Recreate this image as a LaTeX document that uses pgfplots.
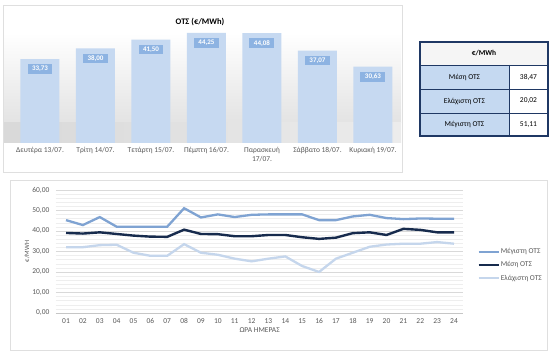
\documentclass[border=0pt]{standalone}
\usepackage{fontspec}
\setmainfont{Carlito}
\usepackage{pgfplots}
\pgfplotsset{compat=1.18}
\definecolor{barblue}{HTML}{C6D9F1}
\definecolor{lblblue}{HTML}{8DB3E2}
\definecolor{maxc}{HTML}{7FA3D2}
\definecolor{meanc}{HTML}{172B4D}
\definecolor{minc}{HTML}{C5D6EC}
\definecolor{navy}{HTML}{1F3864}
\definecolor{cellblue}{HTML}{C5D9F1}
\definecolor{txtgray}{HTML}{595959}
\begin{document}
\begin{tikzpicture}[x=1pt,y=1pt]
\path[use as bounding box] (0pt,0pt) rectangle (558pt,355pt);
% ---- bar chart panel
\draw[gray!25,fill=white] (3pt,350pt) rectangle (402pt,183pt);
\shade[top color=white,bottom color=gray!22] (4pt,322pt) rectangle (401pt,232pt);
\shade[left color=gray!30,right color=gray!15] (4pt,232pt) rectangle (401pt,212pt);
\begin{axis}[at={(12.25pt,212pt)},anchor=south west,scale only axis,
  width=388.5pt,height=124.5pt,xmin=-0.5,xmax=6.5,ymin=0,ymax=50,
  axis line style={draw=none},major tick length=0pt,ytick=\empty,
  xtick={0,...,6},
  xticklabels={Δευτέρα 13/07.,Τρίτη 14/07.,Τετάρτη 15/07.,Πέμπτη 16/07.,{Παρασκευή\\17/07.},Σάββατο 18/07.,Κυριακή 19/07.},
  xticklabel style={font=\fontsize{7.5}{8.5}\selectfont,text=txtgray,align=center,anchor=north,yshift=-1pt},
  /pgf/number format/assume math mode=true,
  clip=false]
\addplot[ybar,bar width=39pt,fill=barblue,draw=none,
  nodes near coords={\pgfmathprintnumber[fixed,fixed zerofill,precision=2,use comma]{\pgfplotspointmeta}},
  every node near coord/.append style={anchor=north,yshift=-5pt,fill=lblblue,text=white,
    font=\bfseries\fontsize{7}{8}\selectfont,inner xsep=4.5pt,inner ysep=2pt}]
  coordinates {(0,33.73) (1,38.00) (2,41.50) (3,44.25) (4,44.08) (5,37.07) (6,30.63)};
\end{axis}
\node[fill=white,font=\bfseries\fontsize{8.5}{10}\selectfont,inner sep=2pt] at (200pt,333pt) {ΟΤΣ (€/MWh)};
% ---- table
\fill[gray!8] (420pt,313pt) rectangle (548pt,290pt);
\fill[cellblue] (420pt,290pt) rectangle (509pt,219pt);
\fill[white] (509pt,290pt) rectangle (548pt,219pt);
\draw[navy,line width=0.6pt] (420pt,290pt) -- (548pt,290pt) (420pt,266pt) -- (548pt,266pt) (420pt,242pt) -- (548pt,242pt) (509pt,290pt) -- (509pt,219pt);
\draw[navy,line width=1.3pt] (420pt,313pt) rectangle (548pt,219pt);
\begin{scope}[font=\fontsize{7.5}{9}\selectfont]
\node[font=\bfseries\fontsize{7.5}{9}\selectfont] at (484pt,301.5pt) {€/MWh};
\node at (464.5pt,278pt) {Μέση ΟΤΣ};
\node at (464.5pt,254pt) {Ελάχιστη ΟΤΣ};
\node at (464.5pt,230.5pt) {Μέγιστη ΟΤΣ};
\node at (528.5pt,278pt) {38,47};
\node at (528.5pt,254pt) {20,02};
\node at (528.5pt,230.5pt) {51,11};
\end{scope}
% ---- line chart panel
\draw[gray!25,fill=white] (10pt,175pt) rectangle (547pt,5pt);
\begin{axis}[at={(55.9pt,42pt)},anchor=south west,scale only axis,
  width=407.4pt,height=123pt,xmin=0.4,xmax=24.55,ymin=0,ymax=60,
  axis x line*=bottom,axis y line*=left,
  x axis line style={draw=gray!45,-},y axis line style={draw=none},
  major tick length=0pt,minor tick length=0pt,
  ytick={0,10,...,60},
  yticklabels={{0,00},{10,00},{20,00},{30,00},{40,00},{50,00},{60,00}},
  minor y tick num=4,
  ymajorgrids,yminorgrids,
  major grid style={gray!30,line width=0.5pt},
  minor grid style={gray!13,line width=0.4pt},
  xtick={1,...,24},
  xticklabels={01,02,03,04,05,06,07,08,09,10,11,12,13,14,15,16,17,18,19,20,21,22,23,24},
  tick label style={font=\fontsize{7.5}{8.5}\selectfont,text=txtgray},
  xticklabel style={yshift=-2pt},
  yticklabel style={xshift=-3pt},
  xlabel={ΩΡΑ ΗΜΕΡΑΣ},ylabel={€/MWH},
  xlabel style={font=\fontsize{7.5}{8.5}\selectfont,text=txtgray,yshift=3pt},
  ylabel style={font=\fontsize{6.5}{7.5}\selectfont,text=txtgray,yshift=-4pt},
  legend style={at={(rel axis cs:1.034,0.39)},anchor=west,draw=none,fill=none,
    font=\fontsize{7.5}{8.5}\selectfont,text=txtgray,row sep=2.5pt,inner xsep=0pt,
    nodes={inner xsep=1pt}},
  legend cell align=left,
  legend image code/.code={\draw[#1] (0pt,0pt) -- (20pt,0pt);},
  /pgf/number format/assume math mode=true,
  clip=false]
\addplot[maxc,line width=2.3pt] coordinates {
(1,45.3) (2,42.9) (3,46.8) (4,42.1) (5,42.1) (6,42.1) (7,42.1) (8,51.11)
(9,46.6) (10,48.1) (11,46.8) (12,47.9) (13,48.1) (14,48.1) (15,48.1) (16,45.3)
(17,45.3) (18,47.1) (19,47.9) (20,46.3) (21,45.8) (22,46.1) (23,46.0) (24,46.0)};
\addlegendentry{Μέγιστη ΟΤΣ}
\addplot[meanc,line width=2.4pt] coordinates {
(1,39.05) (2,38.75) (3,39.35) (4,38.55) (5,37.75) (6,37.25) (7,37.15) (8,40.65)
(9,38.55) (10,38.45) (11,37.45) (12,37.45) (13,38.05) (14,38.05) (15,36.95) (16,36.15)
(17,36.75) (18,38.95) (19,39.35) (20,38.05) (21,41.05) (22,40.55) (23,39.35) (24,39.35)};
\addlegendentry{Μέση ΟΤΣ}
\addplot[minc,line width=2.3pt] coordinates {
(1,32.1) (2,32.1) (3,33.1) (4,33.3) (5,29.4) (6,27.9) (7,27.9) (8,33.6)
(9,29.4) (10,28.4) (11,26.5) (12,25.2) (13,26.5) (14,27.6) (15,22.9) (16,20.02)
(17,26.5) (18,29.4) (19,32.3) (20,33.4) (21,33.8) (22,33.8) (23,34.6) (24,33.8)};
\addlegendentry{Ελάχιστη ΟΤΣ}
\end{axis}
\end{tikzpicture}
\end{document}
